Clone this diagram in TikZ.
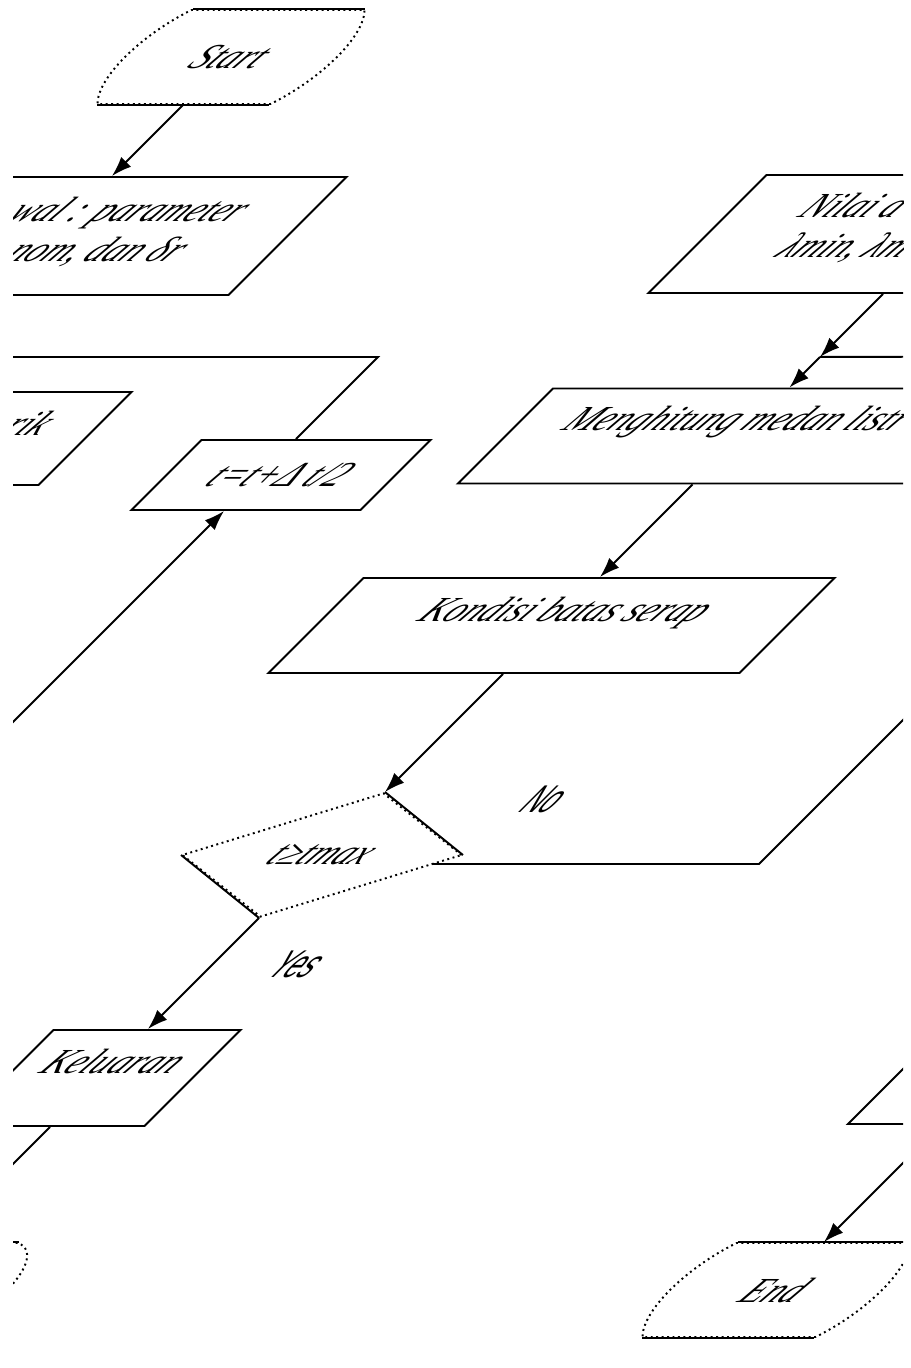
\documentclass[tikz,border=0pt]{standalone}
\usepackage{fontspec}
\setmainfont{Liberation Serif}
\newfontfamily\labelfont{Liberation Sans}
\usetikzlibrary{positioning,arrows.meta,shapes.geometric,shapes.misc,calc}

\begin{document}
\begin{tikzpicture}[
  x=0.1mm, y=0.1mm,
  >={Latex[length=2mm,width=1.4mm]},
  line width=0.55pt,
  proc/.style={rectangle, draw=black, minimum width=47.1mm, minimum height=9.5mm, inner sep=0pt, font=\fontsize{10}{11}\selectfont\itshape},
  term/.style={rounded rectangle, rounded rectangle arc length=90, draw=black, densely dotted, minimum width=21.2mm, minimum height=9.4mm, inner sep=0pt, font=\fontsize{10}{11}\selectfont\itshape},
  cond/.style={diamond, draw=black, densely dotted, minimum width=28mm, minimum height=12.4mm, inner sep=0pt, font=\fontsize{10}{11}\selectfont\itshape},
  txt/.style={inner sep=0pt, anchor=west, font=\fontsize{10}{11}\selectfont\itshape},
  lbl/.style={inner sep=0pt, xscale=0.65, font=\labelfont\fontsize{11}{12}\selectfont},
  raised/.style={text height=2.4mm, text depth=3.3mm}
]
\useasboundingbox (0,0) rectangle (910,-1368);
\clip (13,0) rectangle (903,-1368);
\begin{scope}[xslant=1, transform shape]
% left column
\node[term] (start) at (288,-57) {Start};
\draw[solid] (start.north) ++(-86,0) -- ++(172,0) (start.south) ++(-86,0) -- ++(172,0);
\node[proc, minimum height=11.8mm] (inp) at (288,-236) {};
\node[txt] (inp1) at (225,-213) {wal : parameter};
\node[txt] (inp2) at (263,-252) {nom, dan δr};
\node[proc, minimum height=9.3mm] (rik) at (288,-438.5) {};
\node[txt] (rik1) at (433,-423) {rik};
\node[proc, minimum width=22.9mm, minimum height=7mm] (tbox) at (756,-475) {t=t+Δ t/2};

\draw[->] (start.south) -- (inp.north);

% loop back
\coordinate (lbot) at ($(tbox.south)+(-21,-260)$);
\coordinate (ltop) at ($(tbox.north)+(-21,82)$);
\coordinate (ljoin) at ($(ltop)+(-447,0)$);
\draw[->] (lbot) -- ($(tbox.south)+(-21,0)$);
\draw ($(tbox.north)+(-21,0)$) -- (ltop) -- (ljoin);

% middle column
\node[proc, minimum height=11.8mm] (nilai) at (1177,-234) {};
\node[txt] (nilai1) at (1012,-205) {Nilai a};
\node[txt] (nilai2) at (1030,-248) {λmin, λm};
\node[proc] (mengh) at (1177,-436) {};
\node[txt] (mengh1) at (989,-422) {Menghitung medan listr};
\node[proc, raised] (kond) at (1177,-625.5) {Kondisi batas serap};
\node[cond] (dec) at (1177,-855) {t≥tmax};
\draw[solid] (dec.north) -- (dec.east) (dec.west) -- (dec.south);
\node[proc, raised, minimum width=18.7mm, minimum height=9.6mm] (kel) at (1177,-1078) {Keluaran};
\node[term, minimum width=24mm, rounded rectangle arc length=150] (stop) at (1177,-1290) {};
\draw[solid] (stop.north) ++(-84,0) -- ++(168,0) (stop.south) ++(-84,0) -- ++(168,0);

\coordinate (jn) at ($(nilai.south)+(0,-63)$);
\coordinate (nbend) at (1623,-864);
\coordinate (nturn) at (1623,-356);
\draw[->] (nilai.south) -- (jn);
\draw[->] (jn) -- (mengh.north);
\draw[->] (mengh.south) -- (kond.north);
\draw[->] (kond.south) -- (dec.north);
\draw ($(dec.east)+(-22,-9)$) -- node[lbl, pos=.15, above=5mm] (no) {No} (nbend) -- (nturn) -- (jn);
\draw[->] (dec.south) -- node[lbl, pos=.42, right=6.5mm] (yes) {Yes} (kel.north);
\draw[->] (kel.south) -- (stop.north);

% right column
\node[proc, minimum width=18.8mm, minimum height=9.6mm] (outr) at (2066,-1076) {};
\node[term] (end) at (2066,-1290) {End};
\draw[solid] (end.north) ++(-86,0) -- ++(172,0) (end.south) ++(-86,0) -- ++(172,0);
\draw[->] (outr.south) -- (end.north);
\end{scope}
\end{tikzpicture}
\end{document}
